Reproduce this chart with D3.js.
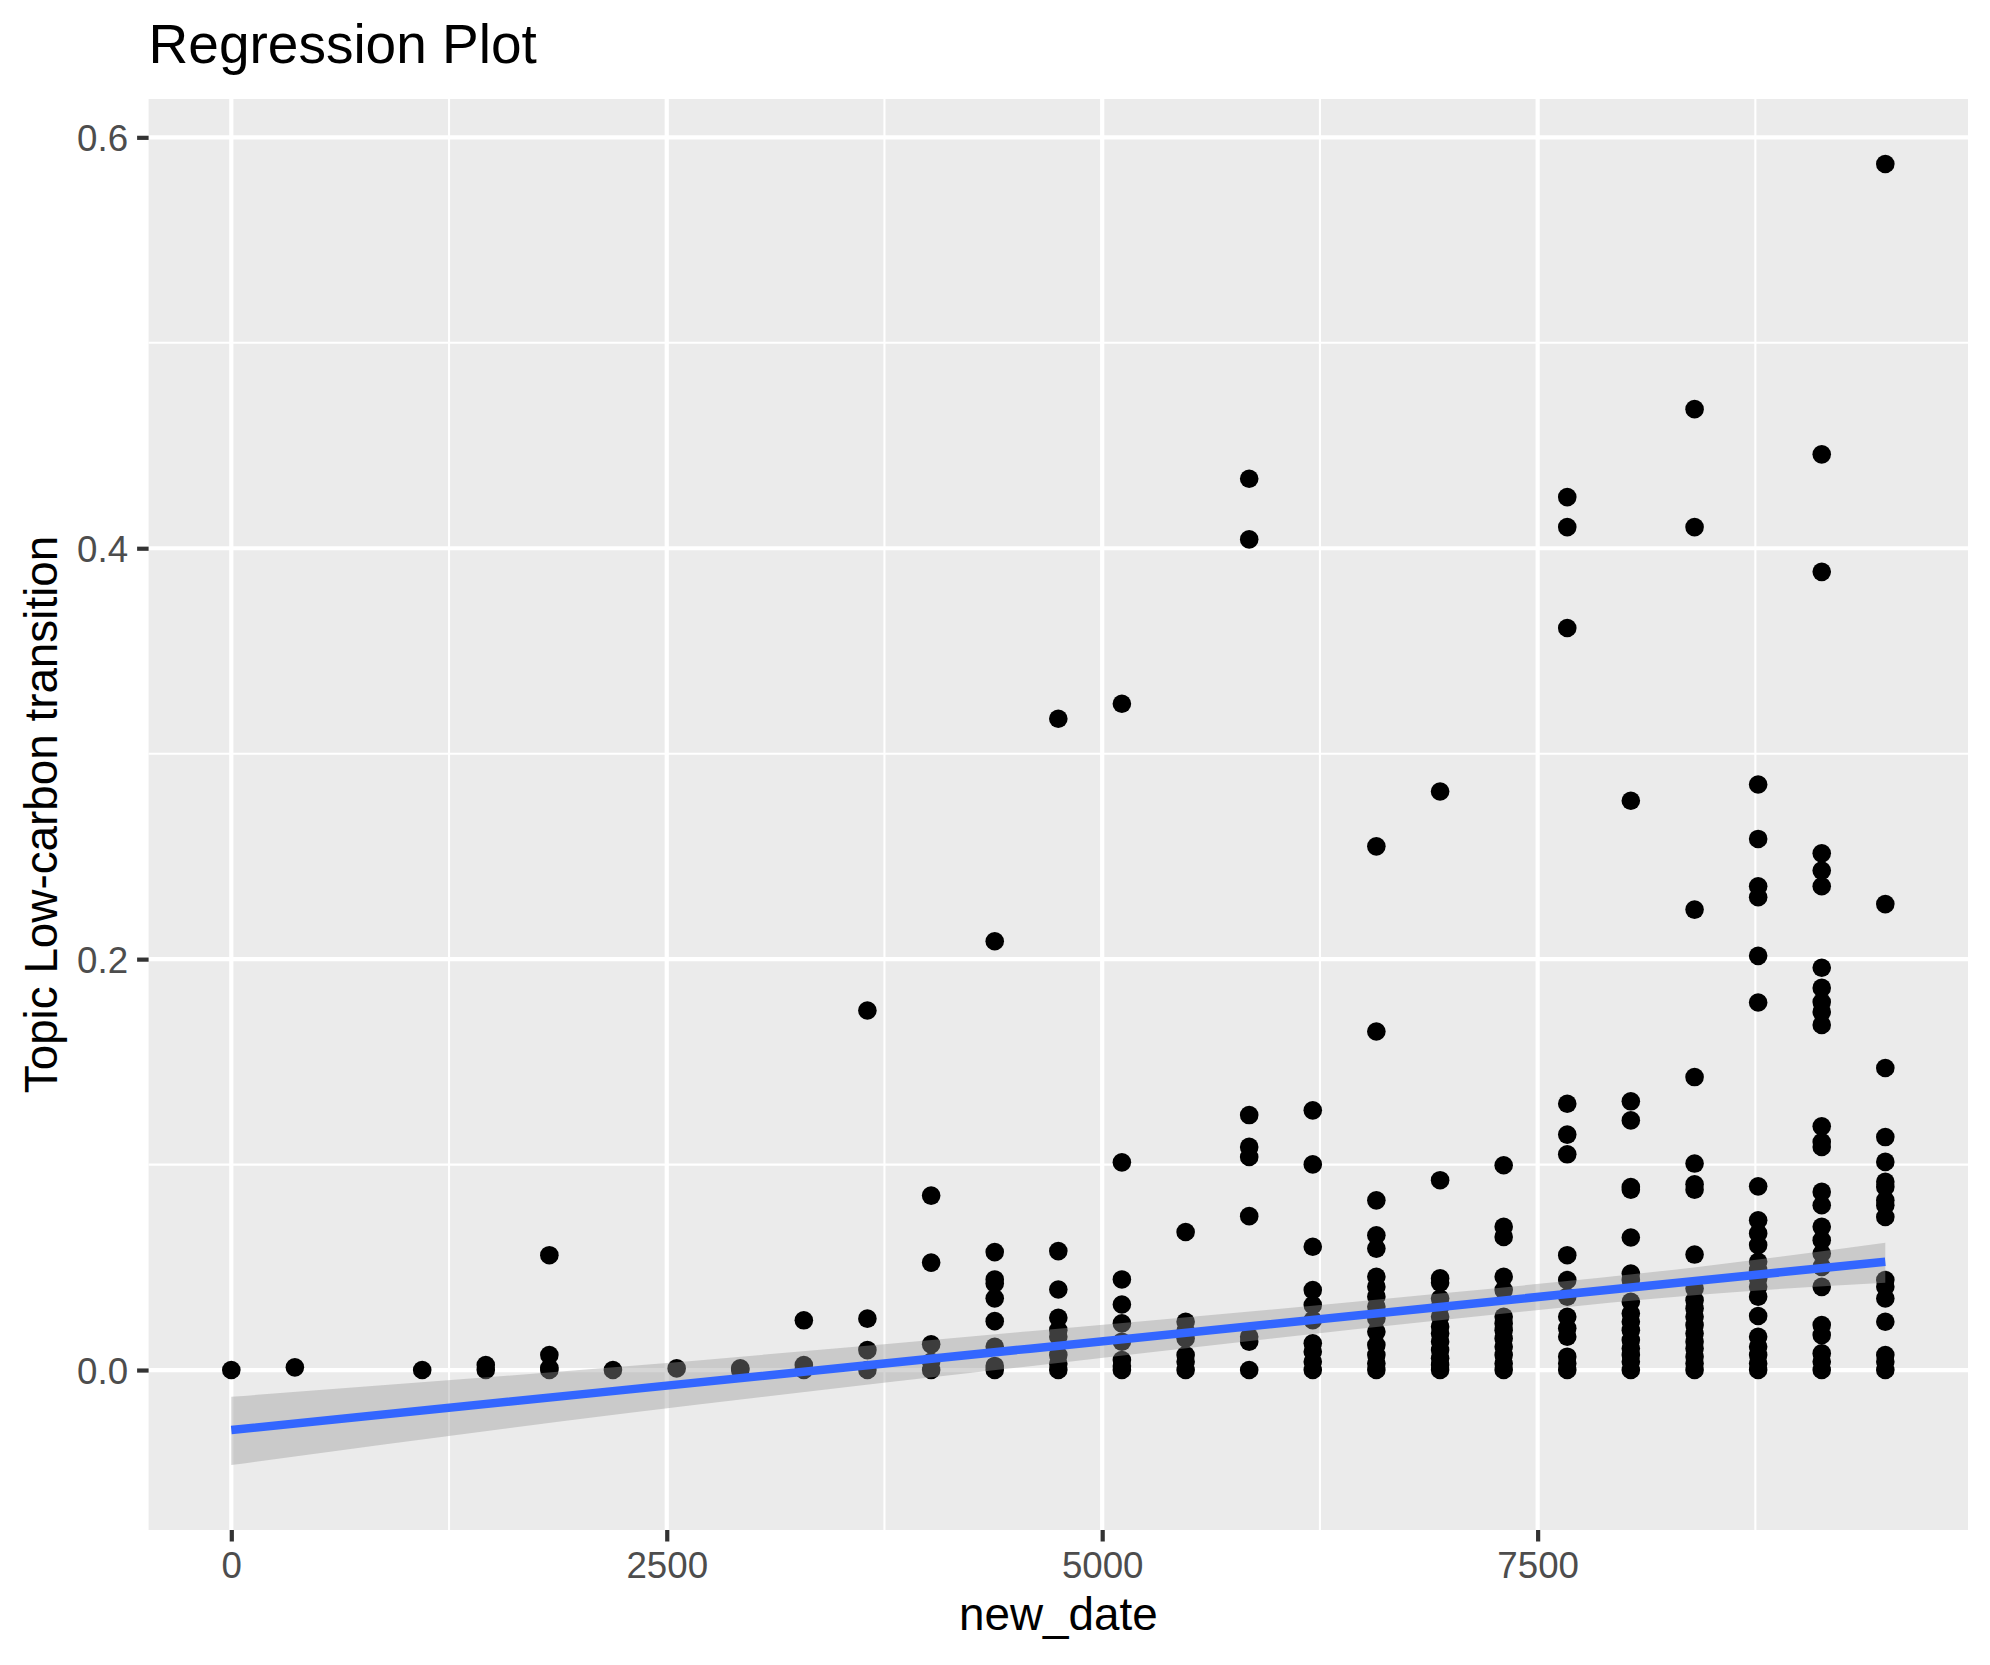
<!DOCTYPE html>
<html>
<head>
<meta charset="utf-8">
<script src="https://cdn.jsdelivr.net/npm/d3@7"></script>
<style>
  body { margin: 0; background: #ffffff; }
  text { font-family: "Liberation Sans", Arial, Helvetica, sans-serif; }
</style>
</head>
<body>
<script>
// day offsets (one column per year)
var dates = [0, 365, 1096, 1461, 1826, 2191, 2557, 2922, 3287, 3652, 4018, 4383, 4748,
             5113, 5479, 5844, 6209, 6574, 6940, 7305, 7670, 8035, 8401, 8766, 9131, 9496];

// topic share per document, one list per date column
var topicVals = [
    [0],
    [0.0013],
    [0],
    [0.0024, 0],
    [0.0559, 0.0073, 0.001, 0],
    [0],
    [0.0008],
    [0.0008, 0],
    [0.0242, 0.0024, 0],
    [0.175, 0.025, 0.0097, 0],
    [0.0849, 0.0523, 0.0125, 0.004, 0],
    [0.2087, 0.0574, 0.0441, 0.0421, 0.0349, 0.0238, 0.0113, 0.002, 0],
    [0.317, 0.0579, 0.0392, 0.0254, 0.0194, 0.0162, 0.0073, 0.003, 0],
    [0.3243, 0.1011, 0.0441, 0.0319, 0.0227, 0.0138, 0.0049, 0.002, 0],
    [0.0672, 0.0235, 0.0191, 0.0154, 0.0073, 0.004, 0],
    [0.4338, 0.4043, 0.1241, 0.1086, 0.1037, 0.0749, 0.0162, 0.0138, 0],
    [0.1264, 0.1001, 0.06, 0.0389, 0.0316, 0.0243, 0.013, 0.0089, 0.004, 0],
    [0.2549, 0.1648, 0.0826, 0.0656, 0.0591, 0.0454, 0.0405, 0.0357, 0.0308, 0.0251, 0.0186, 0.0122, 0.0073, 0.0032, 0],
    [0.2816, 0.0924, 0.0446, 0.0425, 0.0348, 0.0308, 0.0259, 0.0211, 0.0178, 0.0138, 0.0097, 0.0057, 0.0024, 0],
    [0.0997, 0.0697, 0.0648, 0.0454, 0.0389, 0.0259, 0.0227, 0.0194, 0.0154, 0.0113, 0.0073, 0.0032, 0],
    [0.4249, 0.4103, 0.3612, 0.1296, 0.1146, 0.105, 0.0559, 0.0438, 0.0357, 0.0259, 0.0203, 0.0162, 0.0065, 0.0032, 0],
    [0.2771, 0.1308, 0.1215, 0.0891, 0.0878, 0.0645, 0.047, 0.0438, 0.0332, 0.0275, 0.0235, 0.0194, 0.0146, 0.0105, 0.0073, 0.004, 0],
    [0.4677, 0.4103, 0.2241, 0.1426, 0.1005, 0.0904, 0.0878, 0.0562, 0.0397, 0.034, 0.03, 0.0259, 0.0219, 0.0178, 0.0138, 0.0105, 0.0065, 0.0032, 0],
    [0.285, 0.2585, 0.2355, 0.2301, 0.2016, 0.1789, 0.0894, 0.0729, 0.0665, 0.0608, 0.0527, 0.0486, 0.0446, 0.0405, 0.0357, 0.0263, 0.0162, 0.0113, 0.0073, 0.0032, 0],
    [0.4457, 0.3885, 0.2515, 0.2431, 0.2355, 0.1958, 0.186, 0.1791, 0.1743, 0.168, 0.1186, 0.111, 0.1086, 0.0867, 0.0802, 0.0697, 0.0632, 0.0567, 0.0502, 0.0405, 0.0219, 0.017, 0.0081, 0.004, 0],
    [0.587, 0.2268, 0.147, 0.1134, 0.1013, 0.0916, 0.0891, 0.0826, 0.0802, 0.0745, 0.0438, 0.0405, 0.0348, 0.0235, 0.0073, 0.004, 0]
];

// lm fit and 95% band
var smoothX   = [0, 2232, 4585, 6939, 8432, 9496];
var smoothFit = [-0.0292, -0.0099, 0.0104, 0.0307, 0.0436, 0.0527];
var smoothLo  = [-0.0462, -0.0214, 0.0019, 0.0242, 0.0367, 0.0425];
var smoothHi  = [-0.0130, 0.0016, 0.0189, 0.0372, 0.0503, 0.0619];

var xTicks = [0, 2500, 5000, 7500];
var xMinor = [1250, 3750, 6250, 8750];
var yTicks = [0, 0.2, 0.4, 0.6];
var yMinor = [0.1, 0.3, 0.5];

var W = 1990, H = 1665;
var panel = { left: 148.6, right: 1968, top: 99, bottom: 1530 };

var points = [];
dates.forEach(function(d, i){
    topicVals[i].forEach(function(v){ points.push({x: d, y: v}); });
});
var band = smoothX.map(function(d, i){
    return {x: d, fit: smoothFit[i], lo: smoothLo[i], hi: smoothHi[i]};
});

// ggplot style 5% expansion
function expand(ext){ var s = ext[1] - ext[0]; return [ext[0] - 0.05*s, ext[1] + 0.05*s]; }
var xExt = d3.extent(dates);
var yExt = [d3.min([d3.min(points, function(d){ return d.y; }), d3.min(smoothLo)]),
            d3.max([d3.max(points, function(d){ return d.y; }), d3.max(smoothHi)])];

var xScale = d3.scaleLinear().domain(expand(xExt)).range([panel.left, panel.right]);
var yScale = d3.scaleLinear().domain(expand(yExt)).range([panel.bottom, panel.top]);

var svg = d3.select("body").append("svg")
            .attr('width', W)
            .attr('height', H);

svg.append("rect").attr('width', W).attr('height', H).attr('fill', "#ffffff");

svg.append("rect")
   .attr('x', panel.left).attr('y', panel.top)
   .attr('width', panel.right - panel.left)
   .attr('height', panel.bottom - panel.top)
   .attr('fill', "#EBEBEB");

var grid = svg.append("g");
grid.selectAll("line.xminor").data(xMinor).enter().append("line")
    .attr('x1', function(d){ return xScale(d); }).attr('x2', function(d){ return xScale(d); })
    .attr('y1', panel.top).attr('y2', panel.bottom)
    .attr('stroke', "#ffffff").attr('stroke-width', 2.1);
grid.selectAll("line.yminor").data(yMinor).enter().append("line")
    .attr('y1', function(d){ return yScale(d); }).attr('y2', function(d){ return yScale(d); })
    .attr('x1', panel.left).attr('x2', panel.right)
    .attr('stroke', "#ffffff").attr('stroke-width', 2.1);
grid.selectAll("line.xmajor").data(xTicks).enter().append("line")
    .attr('x1', function(d){ return xScale(d); }).attr('x2', function(d){ return xScale(d); })
    .attr('y1', panel.top).attr('y2', panel.bottom)
    .attr('stroke', "#ffffff").attr('stroke-width', 4.2);
grid.selectAll("line.ymajor").data(yTicks).enter().append("line")
    .attr('y1', function(d){ return yScale(d); }).attr('y2', function(d){ return yScale(d); })
    .attr('x1', panel.left).attr('x2', panel.right)
    .attr('stroke', "#ffffff").attr('stroke-width', 4.2);

svg.append("g").selectAll("circle")
   .data(points)
   .enter()
   .append("circle")
   .attr('cx', function(d){ return xScale(d.x); })
   .attr('cy', function(d){ return yScale(d.y); })
   .attr('r', 9.3)
   .attr('fill', "#000000");

var area = d3.area()
             .x(function(d){ return xScale(d.x); })
             .y0(function(d){ return yScale(d.lo); })
             .y1(function(d){ return yScale(d.hi); })
             .curve(d3.curveMonotoneX);

svg.append("path")
   .datum(band)
   .attr('d', area)
   .attr('fill', "#999999")
   .attr('fill-opacity', 0.4);

var fitLine = d3.line()
                .x(function(d){ return xScale(d.x); })
                .y(function(d){ return yScale(d.fit); });

svg.append("path")
   .datum(band)
   .attr('d', fitLine)
   .attr('fill', "none")
   .attr('stroke', "#3366FF")
   .attr('stroke-width', 8.5);

// axes
var xAxis = d3.axisBottom(xScale).tickValues(xTicks).tickSize(11.5).tickPadding(9).tickFormat(d3.format("d"));
var yAxis = d3.axisLeft(yScale).tickValues(yTicks).tickSize(11.5).tickPadding(9).tickFormat(d3.format(".1f"));

var gx = svg.append("g")
            .attr('transform', "translate(0," + panel.bottom + ")")
            .call(xAxis);
var gy = svg.append("g")
            .attr('transform', "translate(" + panel.left + ",0)")
            .call(yAxis);

[gx, gy].forEach(function(g){
    g.select(".domain").remove();
    g.selectAll(".tick line").attr('stroke', "#333333").attr('stroke-width', 4.2);
    g.selectAll(".tick text")
     .attr('fill', "#4D4D4D")
     .style('font-size', "36.7px")
     .style('font-family', "Liberation Sans, Arial, sans-serif");
});
gx.selectAll(".tick text").attr('dy', null).attr('y', 48);
gy.selectAll(".tick text").attr('dy', "0.36em");

svg.append("text")
   .attr('x', panel.left)
   .attr('y', 63)
   .style('font-size', "55px")
   .attr('fill', "#000000")
   .text("Regression Plot");

svg.append("text")
   .attr('x', (panel.left + panel.right) / 2)
   .attr('y', 1630)
   .attr('text-anchor', "middle")
   .style('font-size', "45.8px")
   .attr('fill', "#000000")
   .text("new_date");

svg.append("text")
   .attr('transform', "translate(57," + (panel.top + panel.bottom) / 2 + ") rotate(-90)")
   .attr('text-anchor', "middle")
   .style('font-size', "45.8px")
   .attr('fill', "#000000")
   .text("Topic Low-carbon transition");
</script>
</body>
</html>
